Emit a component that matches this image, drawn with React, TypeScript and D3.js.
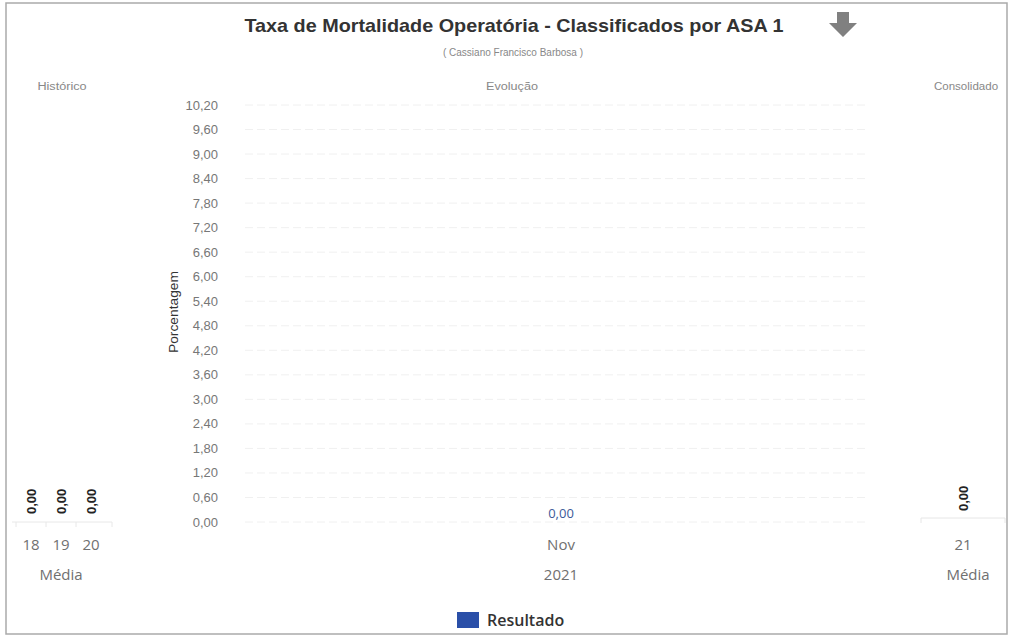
import React from "react";
import * as d3 from "d3";

const W = 1010;
const H = 637;

const titleText = "Taxa de Mortalidade Operatória - Classificados por ASA 1";
const subtitleText = "( Cassiano Francisco Barbosa )";
const panelTitles = ["Histórico", "Evolução", "Consolidado"];

const historyCategories = ["18", "19", "20"];
const historyValues = [0, 0, 0];
const mainCategories = ["Nov"];
const mainValues = [0];
const mainYear = "2021";
const consolidatedCategories = ["21"];
const consolidatedValues = [0];
const yTicks = [0, 0.6, 1.2, 1.8, 2.4, 3.0, 3.6, 4.2, 4.8, 5.4, 6.0, 6.6, 7.2, 7.8, 8.4, 9.0, 9.6, 10.2];
const seriesName = "Resultado";
const groupLabel = "Média";

const fmt = (v: number) => v.toFixed(2).replace(".", ",");

const sans = "'Liberation Sans', Arial, sans-serif";
const open = "'Open Sans', sans-serif";

function T(props: {
  x: number;
  y: number;
  sx?: number;
  rot?: number;
  anchor?: string;
  size: number;
  fill: string;
  family?: string;
  weight?: any;
  children: any;
}) {
  const { x, y, sx = 1, rot = 0, anchor = "middle", size, fill, family = sans, weight = "normal", children } = props;
  return (
    <g transform={`translate(${x},${y}) rotate(${rot}) scale(${sx},1)`}>
      <text x={0} y={0} textAnchor={anchor} fontFamily={family} fontSize={size} fontWeight={weight} fill={fill}>
        {children}
      </text>
    </g>
  );
}

export default function App() {
  const y = d3.scaleLinear().domain([0, 10.2]).range([522, 105]);
  const xMain = d3.scaleBand().domain(mainCategories).range([254, 868]).padding(0.2);
  const xHist = d3.scaleBand().domain(historyCategories).range([13, 109]).padding(0.2);
  const xCons = d3.scaleBand().domain(consolidatedCategories).range([921, 1005]).padding(0.2);
  const base = y(0);
  const grey = "#707070";
  const lightBlue = "#3d5a99";

  return (
    <svg width={W} height={H} style={{ position: "absolute", left: 0, top: 0, background: "#fff" }}>
      <rect x={6} y={3} width={1001} height={631} fill="#fff" stroke="#aaa" strokeWidth={1.5} />
      <T x={514} y={32} sx={1.1} size={18} weight="bold" fill="#333">{titleText}</T>
      {/* download arrow */}
      <path d="M837,12 L849,12 L849,23 L857,23 L843,37 L829,23 L837,23 Z" fill="#808080" />
      <T x={513} y={56} size={10} fill="#888">{subtitleText}</T>
      <T x={62} y={90} sx={1.15} size={11} fill="#888">{panelTitles[0]}</T>
      <T x={512} y={90} sx={1.15} size={11} fill="#888">{panelTitles[1]}</T>
      <T x={966} y={90} sx={1.05} size={11} fill="#888">{panelTitles[2]}</T>

      {/* main gridlines and ticks */}
      {yTicks.map((t) => (
        <g key={t}>
          <line x1={245} x2={868} y1={y(t)} y2={y(t)} stroke="#f0f0f0" strokeWidth={1} strokeDasharray="8 4" />
          <T x={218} y={y(t) + 4.5} anchor="end" size={13} fill="#777">{fmt(t)}</T>
        </g>
      ))}
      <T x={178} y={312} rot={-90} sx={1.15} size={12} fill="#333">Porcentagem</T>

      {/* main series */}
      {mainCategories.map((c, i) => {
        const cx = (xMain(c) as number) + xMain.bandwidth() / 2;
        const v = mainValues[i];
        return (
          <g key={c}>
            <rect x={xMain(c)} y={y(v)} width={xMain.bandwidth()} height={base - y(v)} fill="#2a4fa8" />
            <T x={cx} y={y(v) - 4} size={13} family={open} fill={lightBlue}>{fmt(v)}</T>
            <T x={cx} y={550} size={15} family={open} fill={grey}>{c}</T>
            <T x={cx} y={580} size={15} family={open} fill={grey}>{mainYear}</T>
          </g>
        );
      })}

      {/* history panel */}
      <line x1={12} x2={112} y1={base} y2={base} stroke="#e8e8e8" />
      {historyCategories.map((c, i) => {
        const cx = (xHist(c) as number) + xHist.bandwidth() / 2;
        const v = historyValues[i];
        return (
          <g key={c}>
            <line x1={cx - xHist.step() / 2} x2={cx - xHist.step() / 2} y1={base} y2={base + 5} stroke="#e8e8e8" />
            <rect x={xHist(c)} y={y(v)} width={xHist.bandwidth()} height={base - y(v)} fill="#2a4fa8" />
            <T x={cx + 4.5} y={y(v) - 8} rot={-90} anchor="start" size={13} weight="bold" fill="#222">{fmt(v)}</T>
            <T x={cx} y={550} size={15} family={open} fill={grey}>{c}</T>
          </g>
        );
      })}
      <line x1={112} x2={112} y1={base} y2={base + 5} stroke="#e8e8e8" />
      <T x={61} y={580} size={15} family={open} fill={grey}>{groupLabel}</T>

      {/* consolidated panel */}
      <line x1={921} x2={1005} y1={base - 4} y2={base - 4} stroke="#e6e6e6" />
      {consolidatedCategories.map((c, i) => {
        const cx = (xCons(c) as number) + xCons.bandwidth() / 2;
        const v = consolidatedValues[i];
        return (
          <g key={c}>
            <line x1={921} x2={921} y1={base - 4} y2={base + 1} stroke="#e6e6e6" />
            <line x1={1005} x2={1005} y1={base - 4} y2={base + 1} stroke="#e6e6e6" />
            <rect x={xCons(c)} y={y(v)} width={xCons.bandwidth()} height={base - y(v)} fill="#2a4fa8" />
            <T x={cx + 4.5} y={y(v) - 11} rot={-90} anchor="start" size={13} weight="bold" fill="#222">{fmt(v)}</T>
            <T x={cx} y={550} size={15} family={open} fill={grey}>{c}</T>
          </g>
        );
      })}
      <T x={968} y={580} size={15} family={open} fill={grey}>{groupLabel}</T>

      {/* legend */}
      <rect x={457} y={612} width={22} height={16} fill="#2a4fa8" />
      <T x={487} y={626} anchor="start" size={16} family={open} weight={600} fill="#333">{seriesName}</T>
    </svg>
  );
}
